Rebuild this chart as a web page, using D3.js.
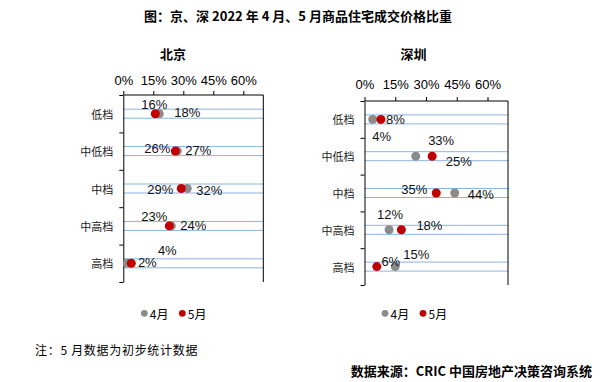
<!DOCTYPE html>
<html><head><meta charset="utf-8">
<script src="https://cdn.jsdelivr.net/npm/d3@7/dist/d3.min.js"></script>
<style>
html,body{margin:0;padding:0;background:#fff;}
svg{display:block;}
</style></head>
<body>
<svg id="chart" width="604" height="382"></svg>
<script>
// ---- data ----
const categories = ["低档", "中低档", "中档", "中高档", "高档"];
const seriesNames = ["4月", "5月"];
const bjApr = [18, 27, 32, 24, 2];
const bjMay = [16, 26, 29, 23, 4];
const szApr = [4, 25, 44, 12, 15];
const szMay = [8, 33, 35, 18, 6];
const xTicks = [0, 15, 30, 45, 60];
const chartTitle = "图：京、深 2022 年 4 月、5 月商品住宅成交价格比重";
const noteText = "注：5 月数据为初步统计数据";
const sourceText = "数据来源：CRIC 中国房地产决策咨询系统";

// ---- layout (label nudges are layout, not data) ----
const panels = [
  { name: "北京", apr: bjApr, may: bjMay, x0: 123.3, x1: 263.3, top: 95, bottom: 282,
    titleX: 173, tickY: 80, legendX: 144.3,
    aprNudge: [[28,-1.4],[21,-1],[22,1.5],[22,0],[20,-0.6]],
    mayNudge: [[-1,-9],[-18,-3],[-21,0.5],[-15,-9],[36,-12.6]] },
  { name: "深圳", apr: szApr, may: szMay, x0: 364.5, x1: 508, top: 101, bottom: 285,
    titleX: 413.5, tickY: 84.3, legendX: 385,
    aprNudge: [[9,16.6],[43,4.8],[26,1],[1,-15.5],[21,-12.3]],
    mayNudge: [[14.5,0],[9,-15.5],[-22,-3.7],[28,-4.8],[14,-5.6]] }
];
const colors = { apr: "#8c8c8c", may: "#c00000", grid: "#8db3e2" };
const latin = "'Liberation Sans', Arial, sans-serif";
const cjk = "'Noto Sans CJK SC', 'Liberation Sans', sans-serif";

const svg = d3.select("#chart");

svg.append("text").attr("x", 298).attr("y", 15).attr("text-anchor", "middle")
  .attr("dominant-baseline", "central").style("font-family", cjk)
  .style("font-size", "13px").style("font-weight", "bold").text(chartTitle);

panels.forEach(p => {
  const g = svg.append("g");
  const x = d3.scaleLinear().domain([0, 70]).range([p.x0, p.x1]);
  const y = d3.scaleBand().domain(categories).range([p.top, p.bottom]);
  const yEdge = d3.scaleLinear().domain([0, categories.length]).range([p.top, p.bottom]);

  g.append("text").attr("x", p.titleX).attr("y", 53).attr("text-anchor", "middle")
    .attr("dominant-baseline", "central").style("font-family", cjk)
    .style("font-size", "13px").style("font-weight", "bold").text(p.name);

  // blue guide lines
  categories.forEach(c => {
    const cy = y(c) + y.bandwidth() / 2;
    [-4.5, 4.5].forEach(off => {
      g.append("line").attr("x1", x(0)).attr("x2", x(70))
        .attr("y1", cy + off).attr("y2", cy + off)
        .attr("stroke", colors.grid).attr("stroke-width", 1);
    });
  });

  // top axis
  const ax = g.append("g").attr("transform", `translate(0,${p.top})`)
    .call(d3.axisTop(x).tickValues(xTicks).tickFormat(d => d + "%").tickSize(4).tickSizeOuter(0));
  ax.select(".domain").remove();
  ax.append("line").attr("x1", x(0)).attr("x2", x(70)).attr("stroke", "#000");
  ax.selectAll(".tick line").attr("stroke", "#000");
  ax.selectAll(".tick text").attr("y", 0).attr("dy", null)
    .attr("transform", `translate(0,${p.tickY - p.top})`)
    .attr("dominant-baseline", "central")
    .style("font-family", latin).style("font-size", "13px").attr("fill", "#000");

  // left axis (category boundaries)
  const ay = g.append("g").attr("transform", `translate(${x(0)},0)`)
    .call(d3.axisLeft(yEdge).tickValues(d3.range(categories.length + 1)).tickFormat("").tickSize(4).tickSizeOuter(0));
  ay.select(".domain").attr("stroke", "#000");
  ay.selectAll(".tick line").attr("stroke", "#000");

  // right border
  g.append("line").attr("x1", x(70)).attr("x2", x(70)).attr("y1", p.top).attr("y2", p.bottom)
    .attr("stroke", "#000");

  // category labels
  g.selectAll(".cat").data(categories).enter().append("text")
    .attr("x", x(0) - 10).attr("y", d => y(d) + y.bandwidth() / 2)
    .attr("text-anchor", "end").attr("dominant-baseline", "central")
    .style("font-family", cjk).style("font-size", "11px").attr("fill", "#222").text(d => d);

  const cy = i => y(categories[i]) + y.bandwidth() / 2;

  g.selectAll(".apr").data(p.apr).enter().append("circle")
    .attr("cx", d => x(d)).attr("cy", (d, i) => cy(i)).attr("r", 4.5).attr("fill", colors.apr);
  g.selectAll(".may").data(p.may).enter().append("circle")
    .attr("cx", d => x(d)).attr("cy", (d, i) => cy(i)).attr("r", 4.5).attr("fill", colors.may);

  const lab = (arr, nudge) => g.selectAll(null).data(arr).enter().append("text")
    .attr("x", (d, i) => x(d) + nudge[i][0]).attr("y", (d, i) => cy(i) + nudge[i][1])
    .attr("text-anchor", "middle").attr("dominant-baseline", "central")
    .style("font-family", latin).style("font-size", "13px").attr("fill", "#111")
    .text(d => d + "%");
  lab(p.apr, p.aprNudge);
  lab(p.may, p.mayNudge);

  // legend
  const lg = g.append("g").attr("transform", `translate(${p.legendX},313.3)`);
  [[colors.apr, seriesNames[0], 0], [colors.may, seriesNames[1], 38]].forEach(([c, t, o]) => {
    lg.append("circle").attr("cx", o).attr("cy", 0).attr("r", 3.4).attr("fill", c);
    lg.append("text").attr("x", o + 5.5).attr("y", 0).attr("dominant-baseline", "central")
      .style("font-family", cjk).style("font-size", "12px").attr("fill", "#000").text(t);
  });
});

svg.append("text").attr("x", 35).attr("y", 349.3).attr("dominant-baseline", "central")
  .style("font-family", cjk).style("font-size", "12px").style("letter-spacing", "0.7px")
  .attr("fill", "#000").text(noteText);

svg.append("text").attr("x", 592).attr("y", 370).attr("text-anchor", "end")
  .attr("dominant-baseline", "central").style("font-family", cjk)
  .style("font-size", "13px").style("font-weight", "bold").attr("fill", "#000").text(sourceText);
</script>
</body></html>
